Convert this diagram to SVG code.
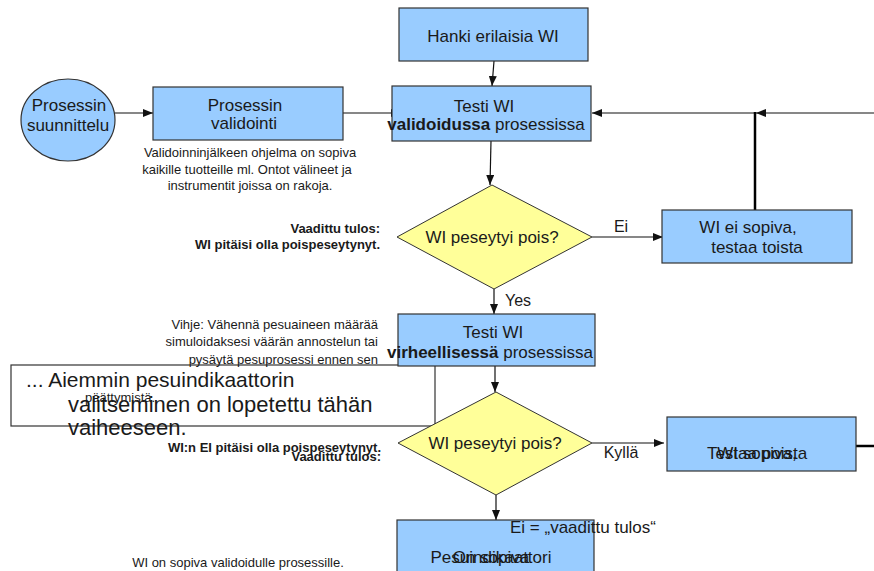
<svg xmlns="http://www.w3.org/2000/svg" width="874" height="571" viewBox="0 0 874 571">
<defs>
<marker id="arr" markerUnits="userSpaceOnUse" markerWidth="10" markerHeight="8" refX="10" refY="4" orient="auto">
<path d="M0,0 L10,4 L0,8 z" fill="#111"/>
</marker>
</defs>
<style>
text{font-family:"Liberation Sans",Arial,sans-serif;fill:#1a1a1a}
.box{fill:#99ccff;stroke:#333;stroke-width:1.2}
.dia{fill:#ffff99;stroke:#333;stroke-width:1}
.t17{font-size:17px}
.t16{font-size:16px}
.t12{font-size:13px}
.b12{font-size:13px;font-weight:bold}
.t20{font-size:21px}
.t22{font-size:22px}
.c{text-anchor:middle}
.r{text-anchor:end}
.ln{stroke:#111;stroke-width:1.2;fill:none}
.thick{stroke:#000;stroke-width:2.5;fill:none}
</style>
<rect width="874" height="571" fill="#fff"/>

<g id="connectors">
<line class="ln" x1="115" y1="113" x2="153" y2="113" marker-end="url(#arr)"/>
<line class="ln" x1="343" y1="113" x2="401" y2="113" marker-end="url(#arr)"/>
<line class="ln" x1="494" y1="61" x2="492" y2="86" marker-end="url(#arr)"/>
<line class="ln" x1="491" y1="141" x2="490" y2="185" marker-end="url(#arr)"/>
<line class="ln" x1="874" y1="113" x2="756" y2="113" marker-end="url(#arr)"/>
<line class="ln" x1="755" y1="113" x2="592" y2="113" marker-end="url(#arr)"/>
<line class="thick" x1="755" y1="112" x2="755" y2="210"/>
<line class="ln" x1="592" y1="237" x2="663" y2="237" marker-end="url(#arr)"/>
<line class="ln" x1="494" y1="289" x2="494" y2="314" marker-end="url(#arr)"/>
<line class="ln" x1="495" y1="366" x2="495" y2="392" marker-end="url(#arr)"/>
<line class="ln" x1="592" y1="443" x2="664" y2="443" marker-end="url(#arr)"/>
<line class="thick" x1="856" y1="446" x2="874" y2="446"/>
<line class="ln" x1="496" y1="495" x2="496" y2="520" marker-end="url(#arr)"/>
</g>

<g id="overlay-note">
<rect x="11" y="365" width="424" height="61" fill="#fff" stroke="#333" stroke-width="1.2"/>
</g>

<g id="n-suunnittelu">
<ellipse cx="68" cy="120" rx="47" ry="41" class="box"/>
<text class="t17 c" x="69" y="111">Prosessin</text>
<text class="t17 c" x="68" y="131">suunnittelu</text>
</g>

<g id="n-validointi">
<rect class="box" x="153" y="87" width="190" height="53"/>
<text class="t17 c" x="245" y="111">Prosessin</text>
<text class="t17 c" x="244" y="129">validointi</text>
<text class="t12 c" x="250" y="157">Validoinninjälkeen ohjelma on sopiva</text>
<text class="t12 c" x="247" y="174">kaikille tuotteille ml. Ontot välineet ja</text>
<text class="t12 c" x="250" y="190">instrumentit joissa on rakoja.</text>
</g>

<g id="n-hanki">
<rect class="box" x="399" y="8" width="189" height="53"/>
<text class="t17 c" x="493" y="42">Hanki erilaisia WI</text>
</g>

<g id="n-testi1">
<rect class="box" x="392" y="86" width="199" height="55"/>
<text class="t17 c" x="484" y="112">Testi WI</text>
<text class="t17 c" x="486" y="130"><tspan font-weight="bold">validoidussa</tspan> prosessissa</text>
</g>

<g id="n-dia1">
<polygon class="dia" points="492,185 592,237 494,289 397,237"/>
<text class="t17 c" x="492" y="243">WI peseytyi pois?</text>
<text class="b12 r" x="380" y="233">Vaadittu tulos:</text>
<text class="b12 r" x="380" y="249">WI pitäisi olla poispeseytynyt.</text>
</g>

<text class="t16 c" x="621" y="232">Ei</text>

<g id="n-eisopiva">
<rect class="box" x="662" y="210" width="190" height="53"/>
<text class="t17 c" x="748" y="233">WI ei sopiva,</text>
<text class="t17 c" x="757" y="253">testaa toista</text>
</g>

<text class="t16" x="505" y="306">Yes</text>

<g id="n-testi2">
<rect class="box" x="398" y="314" width="197" height="52"/>
<text class="t17 c" x="493" y="338">Testi WI</text>
<text class="t17 c" x="490" y="358"><tspan font-weight="bold">virheellisessä</tspan> prosessissa</text>
</g>

<g id="n-vihje">
<text class="t12 r" x="378" y="329">Vihje: Vähennä pesuaineen määrää</text>
<text class="t12 r" x="378" y="346">simuloidaksesi väärän annostelun tai</text>
<text class="t12 r" x="378" y="364">pysäytä pesuprosessi  ennen sen</text>
<text class="t12" x="85" y="402">päättymistä.</text>
</g>

<g id="overlay-text">
<text class="t20" x="26" y="387">... Aiemmin pesuindikaattorin</text>
<text class="t22" x="68" y="412">valitseminen on lopetettu tähän</text>
<text class="t22" x="68" y="435">vaiheeseen.</text>
</g>

<g id="n-dia2">
<polygon class="dia" points="496,392 592,443 496,495 398,443"/>
<text class="t17 c" x="495" y="449">WI peseytyi pois?</text>
<text class="b12 r" x="381" y="452">WI:n EI pitäisi olla poispeseytynyt.</text>
<text class="b12 r" x="381" y="461">Vaadittu tulos:</text>
</g>

<text class="t16 c" x="621" y="458">Kyllä</text>

<g id="n-sopiva">
<rect class="box" x="667" y="417" width="189" height="54"/>
<text class="t17 c" x="757" y="459">WI sopiva,</text>
<text class="t17 c" x="757" y="459">Testaa poista</text>
</g>

<g id="n-pesuindikaattori">
<rect class="box" x="397" y="520" width="197" height="60"/>
<text class="t17 c" x="491" y="563">Pesuindikaattori</text>
<text class="t17 c" x="491" y="563">On sopiva</text>
</g>

<text class="t17" x="510" y="533">Ei = „vaadittu tulos“</text>

<text class="t12 c" x="238" y="567">WI on sopiva validoidulle prosessille.</text>
</svg>
